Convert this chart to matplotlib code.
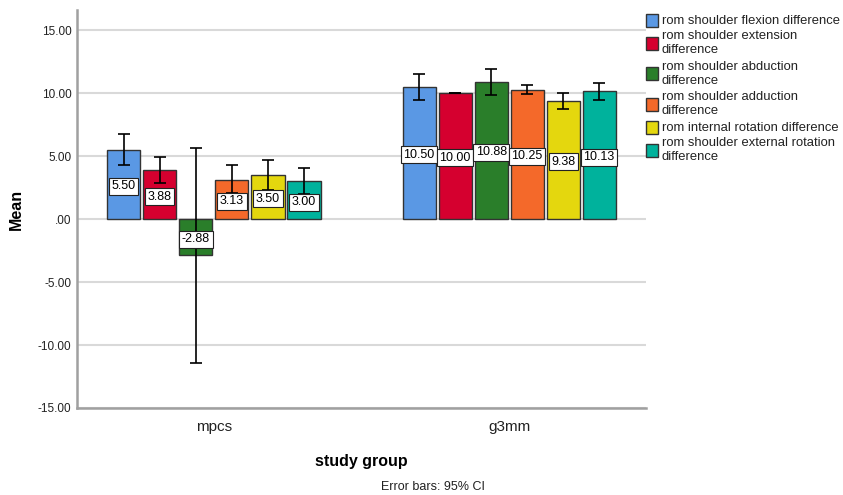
import matplotlib
matplotlib.use("Agg")
import matplotlib.pyplot as plt
from matplotlib.patches import Rectangle
import numpy as np

plt.rcParams['font.family'] = ['Liberation Sans', 'DejaVu Sans']

groups = ["mpcs", "g3mm"]
series = ["rom shoulder flexion difference",
          "rom shoulder extension\ndifference",
          "rom shoulder abduction\ndifference",
          "rom shoulder adduction\ndifference",
          "rom internal rotation difference",
          "rom shoulder external rotation\ndifference"]
colors = ["#5A98E4", "#D5002F", "#2A7E2A", "#F4692A", "#E4D70E", "#00B29C"]

means_mpcs = [5.50, 3.88, -2.88, 3.13, 3.50, 3.00]
means_g3mm = [10.50, 10.00, 10.88, 10.25, 9.38, 10.13]
ci_low_mpcs = [4.29, 2.88, -11.40, 2.04, 2.34, 1.98]
ci_high_mpcs = [6.75, 4.90, 5.66, 4.29, 4.66, 4.02]
ci_low_g3mm = [9.42, 10.00, 9.87, 9.95, 8.74, 9.47]
ci_high_g3mm = [11.54, 10.00, 11.88, 10.61, 10.00, 10.79]

means = np.array([means_mpcs, means_g3mm])
lows = np.array([ci_low_mpcs, ci_low_g3mm])
highs = np.array([ci_high_mpcs, ci_high_g3mm])

W, H = 843, 495
fig = plt.figure(figsize=(W / 100, H / 100), dpi=100)
ax = fig.add_axes([77/W, 87/H, (645.5-77)/W, (408-10)/H])

x = np.arange(len(groups))
step = 0.122
width = 0.112
n = len(series)
for i in range(n):
    xs = x + (i - (n - 1) / 2) * step
    vals = means[:, i]
    ax.bar(xs, vals, width, color=colors[i], edgecolor="#333333", linewidth=1.0,
           label=series[i], zorder=3)
    yerr = np.vstack([vals - lows[:, i], highs[:, i] - vals])
    ax.errorbar(xs, vals, yerr=yerr, fmt="none", ecolor="black", elinewidth=1.2,
                capsize=4, capthick=1.2, zorder=4)
    for xx, v in zip(xs, vals):
        ax.text(xx, v / 2 - 0.15, f"{v:.2f}", ha="center", va="center", fontsize=9,
                zorder=5,
                bbox=dict(boxstyle="square,pad=0.2", facecolor="white",
                          edgecolor="#222222", linewidth=0.8))

ax.set_xlim(-0.464, 1.462)
ax.set_ylim(-15, 16.6)
yt = [-15, -10, -5, 0, 5, 10, 15]
ax.set_yticks(yt)
ax.set_yticklabels(["-15.00", "-10.00", "-5.00", ".00", "5.00", "10.00", "15.00"],
                   fontsize=8.5, color="#222222")
ax.set_xticks(x)
ax.set_xticklabels(groups, fontsize=11, color="#222222")
ax.tick_params(axis="both", length=0, pad=4)
ax.tick_params(axis="x", pad=9)
ax.grid(axis="y", color="#D9D9D9", linewidth=1.5, zorder=0)
ax.set_axisbelow(True)
for s in ["top", "right"]:
    ax.spines[s].set_visible(False)
for s in ["left", "bottom"]:
    ax.spines[s].set_color("#A0A0A0")
    ax.spines[s].set_linewidth(1.8)

ax.set_ylabel("Mean", fontsize=11.5, fontweight="bold", labelpad=10)
ax.set_xlabel("study group", fontsize=11.5, fontweight="bold", labelpad=14)

# legend (manual, to match line spacing of the original)
lines_before = 0
for lab, col in zip(series, colors):
    parts = lab.split("\n")
    y_first = 20.7 + 15.3 * lines_before
    y_lines = [y_first + 14 * k for k in range(len(parts))]
    yc = np.mean(y_lines)
    fig.add_artist(Rectangle((645.5 / W, 1 - (yc + 6.5) / H), 12.5 / W, 13 / H,
                             transform=fig.transFigure, facecolor=col,
                             edgecolor="#333333", linewidth=1.0))
    for part, yy in zip(parts, y_lines):
        fig.text(662 / W, 1 - yy / H, part, ha="left", va="center",
                 fontsize=9.4, color="#222222")
    lines_before += len(parts)

fig.text(433/W, 1 - 487/H, "Error bars: 95% CI", ha="center", va="center",
         fontsize=9, color="#222222")

fig.savefig("out.png", dpi=100)
